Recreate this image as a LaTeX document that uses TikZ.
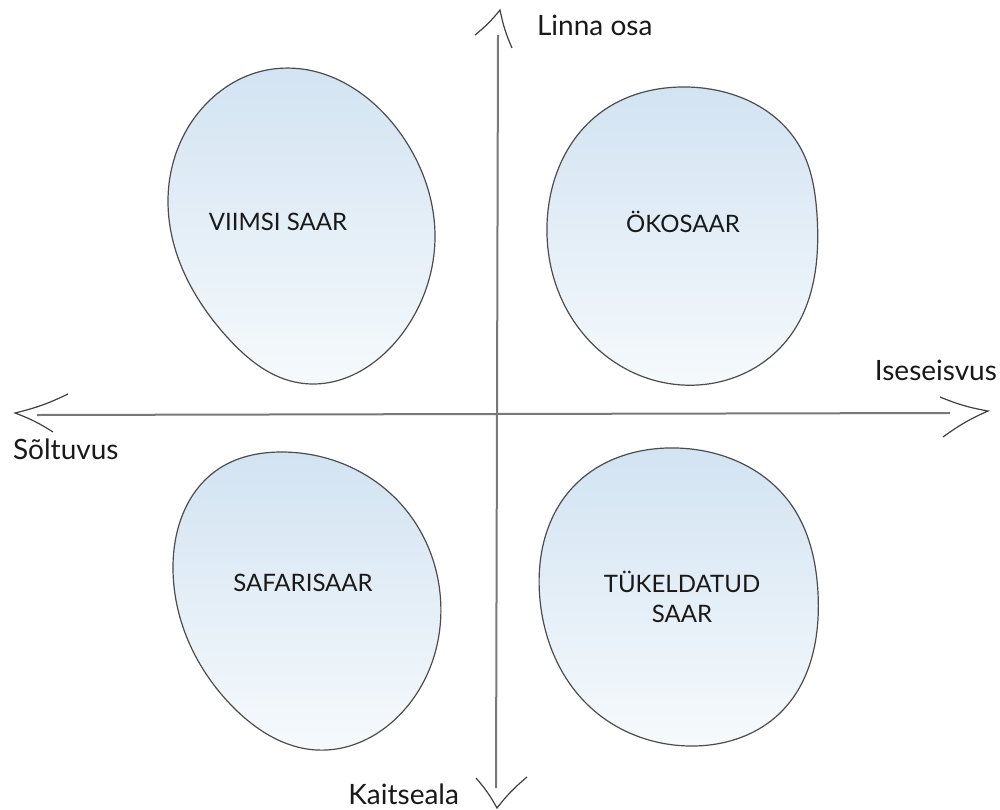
\documentclass[tikz,border=0pt]{standalone}
\usepackage{fontspec}
\setmainfont{Lato}
\usepackage{tikz}
\usetikzlibrary{positioning, hobby}
\definecolor{islandtop}{RGB}{210,227,242}
\definecolor{islandbottom}{RGB}{246,250,252}
\definecolor{inkgray}{RGB}{120,120,120}
\definecolor{textdark}{RGB}{25,25,25}

\begin{document}
\begin{tikzpicture}[
    x=0.5pt, y=-0.5pt,
    island/.style={draw=black!70, line width=0.6pt, top color=islandtop, bottom color=islandbottom, use Hobby shortcut, closed=true},
    islandtext/.style={font=\fontsize{12}{15}\selectfont, text=textdark, align=center},
    axis/.style={draw=inkgray, line width=1pt},
    tip/.style={draw=black!75, line width=0.6pt},
    axislabel/.style={font=\fontsize{14}{16}\selectfont, text=textdark}
]
    \useasboundingbox (0,0) rectangle (1000,809);

    % Islands
    \draw[island] (273,69) .. (405,140) .. (435,237) .. (407,327) .. (300,383) .. (227,337) .. (168,200) .. (210,100);
    \draw[island] (687,87) .. (800,147) .. (817,215) .. (787,340) .. (653,380) .. (567,310) .. (547,225) .. (600,113);
    \draw[island] (283,452) .. (400,503) .. (440,593) .. (410,703) .. (317,750) .. (233,707) .. (173,570) .. (217,470);
    \draw[island] (677,448) .. (790,503) .. (818,593) .. (780,713) .. (690,746) .. (590,707) .. (540,600) .. (573,487);

    \node[islandtext] (viimsi) at (278,222) {VIIMSI SAAR};
    \node[islandtext] (oko) at (683,222) {ÖKOSAAR};
    \node[islandtext] (safari) at (303,583) {SAFARISAAR};
    \node[islandtext] (tukeldatud) at (682,597) {TÜKELDATUD\\SAAR};

    % Axes
    \coordinate (north) at (498,35);
    \coordinate (south) at (496,788);
    \coordinate (west) at (37,415);
    \coordinate (east) at (950,413);
    \coordinate (northtip) at (500,10);
    \coordinate (southtip) at (497,808);
    \coordinate (westtip) at (15,413);
    \coordinate (easttip) at (988,411);

    \draw[axis] (south) -- (north);
    \draw[axis] (west) -- (east);

    % Hand drawn arrow heads
    \draw[tip] (475,35) to[bend right=6] (northtip) to[bend right=6] (512,48);
    \draw[tip] (476,778) to[bend left=6] (southtip) to[bend left=6] (527,777);
    \draw[tip] (68,394) to[bend left=6] (westtip) to[bend left=6] (53,432);
    \draw[tip] (940,397) to[bend right=6] (easttip) to[bend right=6] (943,437);

    % Axis labels
    \node[axislabel, anchor=west] (linna) at (530,25) {Linna osa};
    \node[axislabel, anchor=east] (kaitse) at (466,794) {Kaitseala};
    \node[axislabel, anchor=west] (soltuvus) at (6,449) {Sõltuvus};
    \node[axislabel, anchor=east] (iseseisvus) at (1004,370) {Iseseisvus};
\end{tikzpicture}
\end{document}
